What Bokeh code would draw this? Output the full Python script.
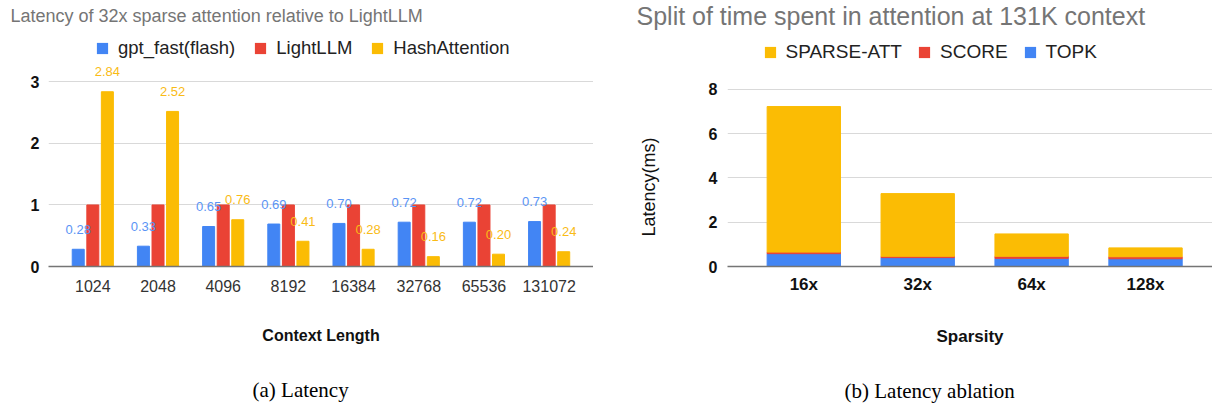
from bokeh.plotting import figure
from bokeh.models import (FactorRange, Range1d, FixedTicker, Legend, LegendItem,
                          Title, ColumnDataSource)
from bokeh.transform import dodge
from bokeh.layouts import row
from bokeh.core.properties import value
from bokeh.embed import file_html
from bokeh.resources import INLINE

# ---------------- data ----------------
context_lengths = ["1024", "2048", "4096", "8192", "16384", "32768", "65536", "131072"]
gpt_fast = [0.28, 0.33, 0.65, 0.69, 0.70, 0.72, 0.72, 0.73]
lightllm = [1.00, 1.00, 1.00, 1.00, 1.00, 1.00, 1.00, 1.00]
hash_attention = [2.84, 2.52, 0.76, 0.41, 0.28, 0.16, 0.20, 0.24]
latency_ticks = [0, 1, 2, 3]

sparsity = ["16x", "32x", "64x", "128x"]
topk = [0.58, 0.40, 0.37, 0.35]
score = [0.07, 0.06, 0.09, 0.09]
sparse_att = [6.57, 2.83, 1.01, 0.40]
ablation_ticks = [0, 2, 4, 6, 8]

# ---------------- style ----------------
SANS = "Liberation Sans"
SERIF = "Liberation Serif"
BLUE, RED, YELLOW = "#4285F4", "#EA4335", "#FBBC04"
GRID = "#d9d9d9"
TITLE_GRAY = "#757575"

# ================= left chart =================
src1 = ColumnDataSource(dict(
    ctx=context_lengths, gpt=gpt_fast, light=lightllm, hash=hash_attention,
    gpt_lbl=[f"{v:.2f}" for v in gpt_fast],
    hash_lbl=[f"{v:.2f}" for v in hash_attention],
))

p1 = figure(width=593, height=404,
            x_range=FactorRange(factors=context_lengths, range_padding=0.045),
            y_range=Range1d(0, 3.819),
            output_backend="svg", toolbar_location=None,
            min_border_left=48, min_border_right=0,
            min_border_top=31, min_border_bottom=137)

p1.title.text = "Latency of 32x sparse attention relative to LightLLM"
p1.title.text_font = SANS
p1.title.text_font_size = "18px"
p1.title.text_font_style = "normal"
p1.title.text_color = TITLE_GRAY
p1.title.align = "left"
p1.title.offset = -38
p1.title.vertical_align = "top"
p1.title.standoff = 8

p1.vbar(x=dodge("ctx", -0.224, range=p1.x_range), top="gpt", width=0.184,
        source=src1, color=BLUE)
p1.vbar(x=dodge("ctx", 0.0, range=p1.x_range), top="light", width=0.184,
        source=src1, color=RED)
p1.vbar(x=dodge("ctx", 0.223, range=p1.x_range), top="hash", width=0.184,
        source=src1, color=YELLOW)

p1.text(x=dodge("ctx", -0.224, range=p1.x_range), y="gpt", text="gpt_lbl", source=src1,
        text_align="center", text_baseline="middle", y_offset=-20,
        text_font=value(SANS), text_font_size="13px", text_color="#5a94f5")
p1.text(x=dodge("ctx", 0.223, range=p1.x_range), y="hash", text="hash_lbl", source=src1,
        text_align="center", text_baseline="middle", y_offset=-20,
        text_font=value(SANS), text_font_size="13px", text_color="#f9bb16")

# legend proxies: zero-size square markers on the real data
lg1 = [p1.scatter(x="ctx", y=col, source=src1, marker="square", size=0,
                  fill_color=c, line_color=None)
       for col, c in (("gpt", BLUE), ("light", RED), ("hash", YELLOW))]
leg1 = Legend(items=[LegendItem(label="gpt_fast(flash)", renderers=[lg1[0]]),
                     LegendItem(label="LightLLM", renderers=[lg1[1]]),
                     LegendItem(label="HashAttention", renderers=[lg1[2]])],
              orientation="horizontal", location=(40, 204),
              glyph_width=28, glyph_height=28, label_height=28,
              label_standoff=2, spacing=11, padding=0, margin=0,
              border_line_color=None, background_fill_alpha=0,
              label_text_font=SANS, label_text_font_size="18.5px", label_text_color="#222222")
p1.add_layout(leg1)

p1.yaxis.ticker = FixedTicker(ticks=latency_ticks)
p1.ygrid.ticker = FixedTicker(ticks=latency_ticks)
p1.ygrid.grid_line_color = GRID
p1.xgrid.grid_line_color = None
p1.yaxis.axis_line_color = None
p1.yaxis.major_tick_line_color = None
p1.yaxis.major_tick_out = 0
p1.yaxis.minor_tick_line_color = None
p1.yaxis.major_label_standoff = 9
p1.yaxis.major_label_text_font = SANS
p1.yaxis.major_label_text_font_size = "16px"
p1.yaxis.major_label_text_font_style = "bold"
p1.yaxis.major_label_text_color = "#111111"
p1.xaxis.axis_line_color = "#757575"
p1.xaxis.axis_line_width = 1.5
p1.xaxis.major_tick_line_color = None
p1.xaxis.major_tick_out = 0
p1.xaxis.major_label_standoff = 13
p1.xaxis.major_label_text_font = SANS
p1.xaxis.major_label_text_font_size = "16px"
p1.xaxis.major_label_text_color = "#333333"
p1.outline_line_color = None

p1.add_layout(Title(text="Context Length", align="center", vertical_align="top", standoff=64,
                    text_font=SANS, text_font_size="16px", text_font_style="bold",
                    text_color="#111111"), "below")
p1.add_layout(Title(text="(a) Latency", align="left", offset=204, vertical_align="top", standoff=0,
                    text_font=SERIF, text_font_size="21px", text_font_style="normal",
                    text_color="#000000"), "below")

# ================= right chart =================
xs = list(range(len(sparsity)))
src2 = ColumnDataSource(dict(x=xs, topk=topk, score=score, sparse=sparse_att))

p2 = figure(width=619, height=404,
            x_range=Range1d(-0.67, 3.588), y_range=Range1d(0, 10.607),
            output_backend="svg", toolbar_location=None,
            min_border_left=134, min_border_right=0,
            min_border_top=31, min_border_bottom=137)

p2.title.text = "Split of time spent in attention at 131K context"
p2.title.text_font = SANS
p2.title.text_font_size = "25px"
p2.title.text_font_style = "normal"
p2.title.text_color = TITLE_GRAY
p2.title.align = "left"
p2.title.offset = -91
p2.title.vertical_align = "top"
p2.title.standoff = 0

p2.vbar_stack(["topk", "score", "sparse"], x="x", width=0.644,
              color=[BLUE, RED, YELLOW], source=src2)

lg2 = [p2.scatter(x="x", y=col, source=src2, marker="square", size=0,
                  fill_color=c, line_color=None)
       for col, c in (("sparse", YELLOW), ("score", RED), ("topk", BLUE))]
leg2 = Legend(items=[LegendItem(label="SPARSE-ATT", renderers=[lg2[0]]),
                     LegendItem(label="SCORE", renderers=[lg2[1]]),
                     LegendItem(label="TOPK", renderers=[lg2[2]])],
              orientation="horizontal", location=(28.5, 200),
              glyph_width=28, glyph_height=28, label_height=28,
              label_standoff=2, spacing=8, padding=0, margin=0,
              border_line_color=None, background_fill_alpha=0,
              label_text_font=SANS, label_text_font_size="19px", label_text_color="#222222")
p2.add_layout(leg2)

p2.xaxis.ticker = FixedTicker(ticks=xs)
p2.xaxis.major_label_overrides = {i: s for i, s in zip(xs, sparsity)}
p2.yaxis.ticker = FixedTicker(ticks=ablation_ticks)
p2.ygrid.ticker = FixedTicker(ticks=ablation_ticks)
p2.ygrid.grid_line_color = GRID
p2.xgrid.grid_line_color = None
p2.yaxis.axis_line_color = None
p2.yaxis.major_tick_line_color = None
p2.yaxis.major_tick_out = 0
p2.yaxis.minor_tick_line_color = None
p2.yaxis.major_label_standoff = 10
p2.yaxis.major_label_text_font = SANS
p2.yaxis.major_label_text_font_size = "16px"
p2.yaxis.major_label_text_font_style = "bold"
p2.yaxis.major_label_text_color = "#111111"
p2.xaxis.axis_line_color = "#757575"
p2.xaxis.axis_line_width = 1.5
p2.xaxis.major_tick_line_color = None
p2.xaxis.major_tick_out = 0
p2.xaxis.minor_tick_line_color = None
p2.xaxis.major_label_standoff = 8
p2.xaxis.major_label_text_font = SANS
p2.xaxis.major_label_text_font_size = "17px"
p2.xaxis.major_label_text_font_style = "bold"
p2.xaxis.major_label_text_color = "#111111"
p2.outline_line_color = None

p2.add_layout(Title(text="Latency(ms)", align="left", offset=30, vertical_align="top", standoff=90,
                    text_font=SANS, text_font_size="18px", text_font_style="normal",
                    text_color="#111111"), "left")
p2.add_layout(Title(text="Sparsity", align="center", vertical_align="top", standoff=61,
                    text_font=SANS, text_font_size="17px", text_font_style="bold",
                    text_color="#111111"), "below")
p2.add_layout(Title(text="(b) Latency ablation", align="left", offset=117, vertical_align="top",
                    standoff=0, text_font=SERIF, text_font_size="21px", text_font_style="normal",
                    text_color="#000000"), "below")

layout = row(p1, p2)
open("out.html", "w").write(file_html(layout, INLINE))
